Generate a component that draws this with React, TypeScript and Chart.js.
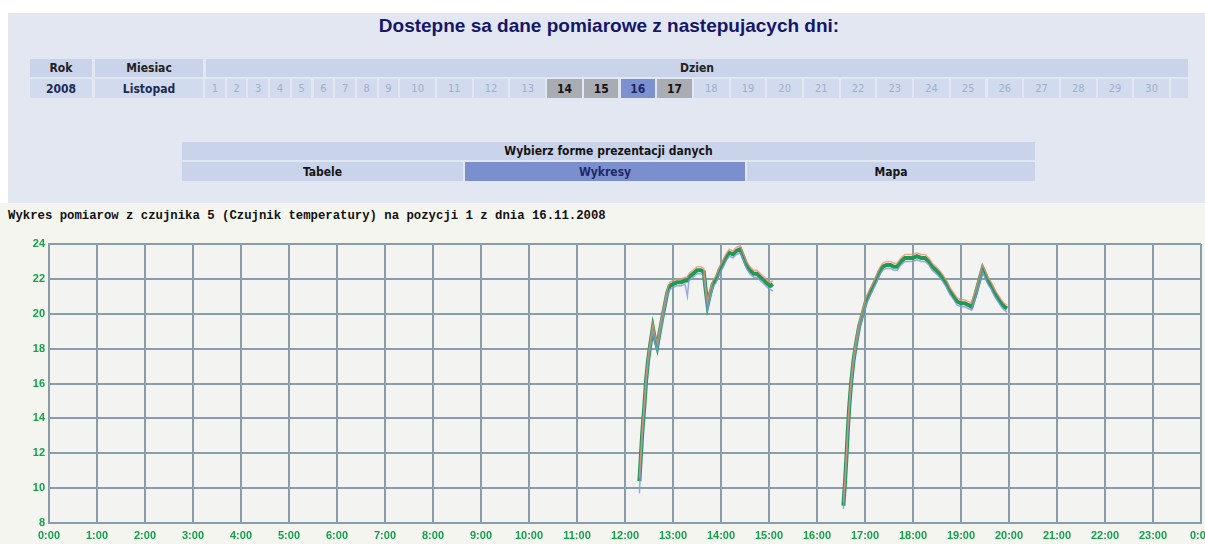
import React, { useEffect, useRef } from "react";
import { Chart, registerables } from "chart.js";

Chart.register(...registerables);

// ---------- data ----------
const pageTitle = "Dostepne sa dane pomiarowe z nastepujacych dni:";
const yearLabel = "2008";
const monthLabel = "Listopad";
const days = [1, 2, 3, 4, 5, 6, 7, 8, 9, 10, 11, 12, 13, 14, 15, 16, 17, 18, 19, 20, 21, 22, 23, 24, 25, 26, 27, 28, 29, 30];
const availableDays = [14, 15, 16, 17];
const selectedDay = 16;
const presentationOptions = ["Tabele", "Wykresy", "Mapa"];
const selectedPresentation = "Wykresy";
const chartCaption = "Wykres pomiarow z czujnika 5 (Czujnik temperatury) na pozycji 1 z dnia 16.11.2008";

const hourLabels = ["0:00", "1:00", "2:00", "3:00", "4:00", "5:00", "6:00", "7:00", "8:00", "9:00", "10:00", "11:00", "12:00", "13:00", "14:00", "15:00", "16:00", "17:00", "18:00", "19:00", "20:00", "21:00", "22:00", "23:00", "0:00"];
const yTickValues = [8, 10, 12, 14, 16, 18, 20, 22, 24];

// time of measurement in hours (null temperature = no data)
const times = [
  12.30, 12.33, 12.36, 12.40, 12.44, 12.48, 12.53, 12.58, 12.62, 12.67, 12.72, 12.78, 12.83, 12.88, 12.93,
  13.00, 13.08, 13.17, 13.25, 13.30, 13.33, 13.42, 13.50, 13.58, 13.64, 13.68, 13.72, 13.77, 13.83, 13.90, 13.97,
  14.03, 14.10, 14.17, 14.25, 14.32, 14.40, 14.46, 14.53, 14.60, 14.68, 14.75, 14.82, 14.90, 14.97, 15.03, 15.08,
  16.00,
  16.55, 16.58, 16.61, 16.64, 16.67, 16.71, 16.76, 16.82, 16.88, 16.95, 17.02, 17.10, 17.17, 17.24, 17.30, 17.37,
  17.45, 17.53, 17.60, 17.67, 17.75, 17.83, 17.92, 18.00, 18.08, 18.17, 18.25, 18.33, 18.40, 18.48, 18.55, 18.63,
  18.70, 18.77, 18.85, 18.92, 19.00, 19.08, 19.15, 19.22, 19.30, 19.38, 19.45, 19.50, 19.56, 19.63, 19.70, 19.77,
  19.84, 19.90, 19.96,
];
const avgTemps = [
  10.4, 11.8, 13.2, 14.6, 16.2, 17.3, 18.3, 19.2, 18.6, 18.1, 18.9, 19.8, 20.5, 21.2, 21.6,
  21.7, 21.8, 21.8, 21.9, 21.9, 22.1, 22.3, 22.5, 22.5, 22.4, 21.4, 20.5, 21.1, 21.7, 22.0, 22.5,
  22.8, 23.2, 23.5, 23.4, 23.6, 23.7, 23.3, 22.8, 22.5, 22.3, 22.3, 22.1, 21.9, 21.7, 21.6, 21.7,
  null,
  9.0, 10.2, 11.6, 13.2, 14.6, 16.0, 17.3, 18.4, 19.3, 20.0, 20.7, 21.2, 21.6, 22.0, 22.4, 22.7,
  22.8, 22.8, 22.7, 22.7, 23.0, 23.2, 23.2, 23.2, 23.3, 23.2, 23.2, 23.0, 22.7, 22.5, 22.3, 22.0,
  21.7, 21.3, 21.0, 20.7, 20.6, 20.6, 20.5, 20.4, 21.1, 21.9, 22.6, 22.3, 21.9, 21.6, 21.2, 20.9,
  20.6, 20.4, 20.3,
];
const maxTemps = [
  10.6, 12.0, 13.4, 14.8, 16.4, 17.5, 18.5, 19.4, 18.8, 18.3, 19.1, 20.0, 20.7, 21.4, 21.8,
  21.9, 22.0, 22.0, 22.1, 22.1, 22.3, 22.5, 22.7, 22.7, 22.6, 21.6, 20.7, 21.3, 21.9, 22.2, 22.7,
  23.0, 23.4, 23.7, 23.6, 23.8, 23.9, 23.5, 23.0, 22.7, 22.5, 22.5, 22.3, 22.1, 21.9, 21.8, 21.9,
  null,
  9.2, 10.4, 11.8, 13.4, 14.8, 16.2, 17.5, 18.6, 19.5, 20.2, 20.9, 21.4, 21.8, 22.2, 22.6, 22.9,
  23.0, 23.0, 22.9, 22.9, 23.2, 23.4, 23.4, 23.4, 23.5, 23.4, 23.4, 23.2, 22.9, 22.7, 22.5, 22.2,
  21.9, 21.5, 21.2, 20.9, 20.8, 20.8, 20.7, 20.6, 21.3, 22.1, 22.8, 22.5, 22.1, 21.8, 21.4, 21.1,
  20.8, 20.6, 20.5,
];
const minTemps = [
  9.7, 11.6, 13.0, 14.4, 16.0, 17.1, 18.1, 19.0, 18.4, 17.9, 18.7, 19.6, 20.3, 21.0, 21.4,
  21.5, 21.6, 21.6, 21.7, 21.0, 21.9, 22.1, 22.3, 22.3, 22.2, 21.2, 20.2, 20.9, 21.5, 21.8, 22.3,
  22.6, 23.0, 23.3, 23.2, 23.4, 23.5, 23.1, 22.6, 22.3, 22.1, 22.1, 21.9, 21.7, 21.5, 21.4, 21.3,
  null,
  8.8, 10.0, 11.4, 13.0, 14.4, 15.8, 17.1, 18.2, 19.1, 19.8, 20.5, 21.0, 21.4, 21.8, 22.2, 22.5,
  22.6, 22.6, 22.5, 22.5, 22.8, 23.0, 23.0, 23.0, 23.1, 23.0, 23.0, 22.8, 22.5, 22.3, 22.1, 21.8,
  21.5, 21.1, 20.8, 20.5, 20.4, 20.4, 20.3, 20.2, 20.9, 21.7, 22.4, 22.1, 21.7, 21.4, 21.0, 20.7,
  20.4, 20.2, 20.1,
];

// ---------- styles ----------
const NARROW = '"Liberation Sans Narrow", "DejaVu Sans Condensed", "Liberation Sans", sans-serif';
const HEADER_BG = "#c9d3ea";
const CELL_BG = "#d2daee";
const GRID = "#8a9eaa";
const TICK_GREEN = "#16a04c";

function dayLeft(d: number) {
  return d <= 9 ? 205 + (d - 1) * 21.7 : 205 + 9 * 21.7 + (d - 10) * 36.7;
}

const TempChart: React.FC = () => {
  const ref = useRef<HTMLCanvasElement | null>(null);
  useEffect(() => {
    if (!ref.current) return;
    const mk = (vals: (number | null)[]) => times.map((t, i) => ({ x: t, y: vals[i] }));
    const bgPlugin = {
      id: "plotBg",
      beforeDraw(chart: any) {
        const { ctx, chartArea } = chart;
        ctx.save();
        ctx.fillStyle = "#f3f3f1";
        ctx.fillRect(chartArea.left, chartArea.top, chartArea.right - chartArea.left, chartArea.bottom - chartArea.top);
        ctx.restore();
      },
    };
    const chart = new Chart(ref.current, {
      type: "line",
      data: {
        datasets: [
          { label: "max", data: mk(maxTemps), borderColor: "rgba(240,140,120,0.75)", borderWidth: 1.5, pointRadius: 0, spanGaps: false, tension: 0 },
          { label: "min", data: mk(minTemps), borderColor: "rgba(130,150,230,0.8)", borderWidth: 1.5, pointRadius: 0, spanGaps: false, tension: 0 },
          { label: "avg", data: mk(avgTemps), borderColor: "#1f9a4e", borderWidth: 4, pointRadius: 0, spanGaps: false, tension: 0 },
        ],
      },
      options: {
        animation: false,
        responsive: false,
        maintainAspectRatio: false,
        parsing: false,
        layout: { padding: { top: 14, right: 4, left: 0, bottom: 0 } },
        plugins: { legend: { display: false }, tooltip: { enabled: false } },
        scales: {
          x: {
            type: "linear",
            min: 0,
            max: 24,
            ticks: {
              stepSize: 1,
              autoSkip: false,
              maxRotation: 0,
              color: TICK_GREEN,
              padding: 6,
              font: { family: '"Liberation Sans", Arial, sans-serif', size: 11, weight: "bold" },
              callback: (v: any) => hourLabels[Math.round(Number(v))],
            },
            grid: { color: GRID, lineWidth: 2, drawTicks: false },
            border: { color: GRID, width: 2 },
            afterFit: (s: any) => {
              s.height = 21;
              s.paddingLeft = 0;
              s.paddingRight = 0;
            },
          },
          y: {
            type: "linear",
            min: yTickValues[0],
            max: yTickValues[yTickValues.length - 1],
            afterBuildTicks: (s: any) => {
              s.ticks = yTickValues.map((v) => ({ value: v }));
            },
            ticks: {
              color: TICK_GREEN,
              padding: 4,
              font: { family: '"Liberation Sans", Arial, sans-serif', size: 11, weight: "bold" },
              callback: (v: any) => String(v),
            },
            grid: { color: GRID, lineWidth: 2, drawTicks: false },
            border: { color: GRID, width: 2 },
            afterFit: (s: any) => {
              s.width = 49;
              s.paddingTop = 0;
              s.paddingBottom = 0;
            },
          },
        },
      } as any,
      plugins: [bgPlugin],
    });
    return () => chart.destroy();
  }, []);
  return (
    <canvas
      ref={ref}
      width={1205}
      height={314}
      style={{ position: "absolute", left: 0, top: 230, width: 1205, height: 314 }}
    />
  );
};

const cellText: React.CSSProperties = {
  position: "absolute",
  display: "flex",
  alignItems: "center",
  justifyContent: "center",
  fontFamily: NARROW,
  fontSize: 12,
  boxSizing: "border-box",
};

export default function App() {
  return (
    <div style={{ position: "absolute", left: 0, top: 0, width: 1205, height: 544, background: "#ffffff", overflow: "hidden" }}>
      {/* upper panel */}
      <div style={{ position: "absolute", left: 8, top: 13, width: 1197, height: 190, background: "#e3e7f1" }} />
      {/* lower area */}
      <div style={{ position: "absolute", left: 0, top: 203, width: 1205, height: 341, background: "#f5f5f0" }} />

      <div
        style={{
          position: "absolute",
          left: 0,
          top: 15,
          width: 1218,
          textAlign: "center",
          fontFamily: '"Liberation Sans", Arial, sans-serif',
          fontWeight: "bold",
          fontSize: 19,
          color: "#15166a",
        }}
      >
        {pageTitle}
      </div>

      {/* table of days: header row */}
      <div style={{ ...cellText, left: 30, top: 59, width: 62, height: 18, background: HEADER_BG, fontWeight: "bold", color: "#222" }}>Rok</div>
      <div style={{ ...cellText, left: 95, top: 59, width: 108, height: 18, background: HEADER_BG, fontWeight: "bold", color: "#222" }}>Miesiac</div>
      <div style={{ ...cellText, left: 206, top: 59, width: 982, height: 18, background: HEADER_BG, fontWeight: "bold", color: "#222" }}>Dzien</div>
      {/* second row */}
      <div style={{ ...cellText, left: 30, top: 79, width: 62, height: 19, background: CELL_BG, color: "#1d2a55", fontWeight: "bold" }}>{yearLabel}</div>
      <div style={{ ...cellText, left: 95, top: 79, width: 108, height: 19, background: CELL_BG, color: "#1d2a55", fontWeight: "bold" }}>{monthLabel}</div>
      {days.map((d) => {
        const avail = availableDays.includes(d);
        const sel = d === selectedDay;
        const w = d <= 9 ? 19.7 : 34.7;
        return (
          <div
            key={d}
            style={{
              ...cellText,
              left: dayLeft(d),
              top: 79,
              width: w,
              height: 19,
              background: sel ? "#7d90d0" : avail ? "#a9acb3" : CELL_BG,
              color: sel ? "#1a2668" : avail ? "#141414" : "#9eafcb",
              fontWeight: avail ? "bold" : "normal",
              fontSize: avail ? 12 : 11,
            }}
          >
            {d}
          </div>
        );
      })}
      <div style={{ ...cellText, left: dayLeft(30) + 36.7, top: 79, width: 1188 - (dayLeft(30) + 36.7), height: 19, background: CELL_BG }} />

      {/* presentation chooser */}
      <div style={{ ...cellText, left: 182, top: 142, width: 853, height: 18, background: HEADER_BG, fontWeight: "bold", color: "#151515" }}>
        Wybierz forme prezentacji danych
      </div>
      {presentationOptions.map((p, i) => {
        const lefts = [182, 465, 747];
        const widths = [281, 280, 288];
        const sel = p === selectedPresentation;
        return (
          <div
            key={p}
            style={{
              ...cellText,
              left: lefts[i],
              top: 162,
              width: widths[i],
              height: 19,
              background: sel ? "#7b8fcf" : HEADER_BG,
              fontWeight: "bold",
              color: sel ? "#1e2a66" : "#151515",
            }}
          >
            {p}
          </div>
        );
      })}

      <div
        style={{
          position: "absolute",
          left: 8,
          top: 209,
          fontFamily: '"Liberation Mono", "DejaVu Sans Mono", monospace',
          fontSize: 12.3,
          fontWeight: "bold",
          color: "#111",
          whiteSpace: "pre",
        }}
      >
        {chartCaption}
      </div>

      <TempChart />
    </div>
  );
}
